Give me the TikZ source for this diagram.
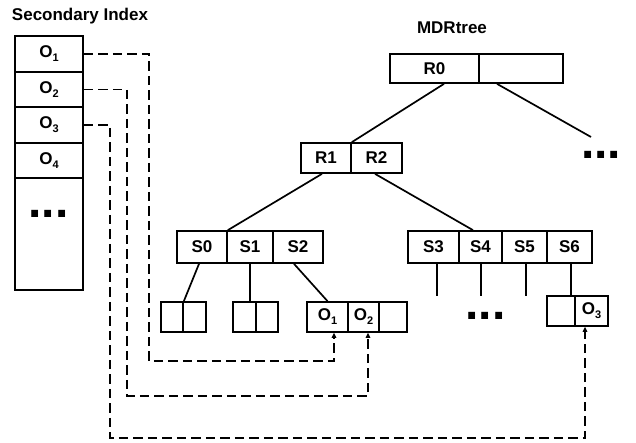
\documentclass[tikz,border=0pt]{standalone}
\usepackage{fontspec}
\setmainfont{Liberation Sans}
\usetikzlibrary{arrows.meta}
\tikzset{
  cell/.style={draw, line width=1.7pt, inner sep=0pt, font=\fontsize{17}{19}\selectfont\bfseries, minimum height=#1},
  cell/.default=30,
  edge/.style={line width=1.7pt},
  link/.style={line width=1.7pt, dash pattern=on 9.5pt off 5pt, -{Triangle[width=4.5pt,length=5pt]}},
  ttl/.style={font=\fontsize{17}{19}\selectfont\bfseries, inner sep=0pt},
  dots/.style={font=\fontsize{48}{48}\selectfont\bfseries, inner sep=0pt, anchor=base}
}
\newcommand{\Osub}[1]{O\raisebox{-4pt}{\fontsize{11}{11}\selectfont #1}}
\begin{document}
\begin{tikzpicture}[x=1pt,y=-1pt]
\useasboundingbox (0,0) rectangle (636,443);
% titles
\node[ttl] (t1) at (80,16) {Secondary Index};
\node[ttl] (t2) at (452,28) {MDRtree};
% secondary index
\node[cell=36, minimum width=68] (I1) at (49,54) {\Osub{1}};
\node[cell=35, minimum width=68] (I2) at (49,89.5) {\Osub{2}};
\node[cell=36, minimum width=68] (I3) at (49,125) {\Osub{3}};
\node[cell=35, minimum width=68] (I4) at (49,160.5) {\Osub{4}};
\node[cell=112, minimum width=68] (I5) at (49,234) {};
\node[dots] (d1) at (48.5,218) {...};
% root
\node[cell=29, minimum width=89] (R0) at (434.5,68.5) {R0};
\node[cell=29, minimum width=84] (R0b) at (521,68.5) {};
\node[dots] (d2) at (601,159) {...};
% level 1
\node[cell=30, minimum width=50] (R1) at (326,158) {R1};
\node[cell=30, minimum width=51] (R2) at (376.5,158) {R2};
% level 2
\node[cell=32, minimum width=50] (S0) at (202,247) {S0};
\node[cell=32, minimum width=46] (S1) at (250,247) {S1};
\node[cell=32, minimum width=50] (S2) at (298,247) {S2};
\node[cell=32, minimum width=51] (S3) at (433.5,247) {S3};
\node[cell=32, minimum width=43] (S4) at (480.5,247) {S4};
\node[cell=32, minimum width=45] (S5) at (524.5,247) {S5};
\node[cell=32, minimum width=45] (S6) at (569.5,247) {S6};
% leaves
\node[cell=30, minimum width=22] (L1a) at (172,317) {};
\node[cell=30, minimum width=23] (L1b) at (194.5,317) {};
\node[cell=30, minimum width=23] (L2a) at (244.5,317) {};
\node[cell=30, minimum width=22] (L2b) at (267,317) {};
\node[cell=30, minimum width=41] (L3a) at (327.5,317) {\Osub{1}};
\node[cell=30, minimum width=31] (L3b) at (363.5,317) {\Osub{2}};
\node[cell=30, minimum width=28] (L3c) at (393,317) {};
\node[cell=30, minimum width=28] (L4a) at (561,311) {};
\node[cell=30, minimum width=33] (L4b) at (591.5,311) {\Osub{3}};
\node[dots] (d3) at (485.5,319) {...};
% free ends
\coordinate (e0) at (591,137);
\coordinate (e3) at (437,296);
\coordinate (e4) at (481,296);
\coordinate (e5) at (526,296);
\coordinate (k1) at (149,361);
\coordinate (k2) at (127,396);
\coordinate (k3) at (110,438);
% tree edges
\draw[edge] ([xshift=9.5pt]R0.south) -- (R1.north east);
\draw[edge] ([xshift=-24pt]R0b.south) -- (e0);
\draw[edge] ([xshift=-4pt]R1.south) -- (S0.north east);
\draw[edge] ([xshift=-1.5pt]R2.south) -- ([xshift=-7.5pt]S4.north);
\draw[edge] ([xshift=-3pt]S0.south) -- (L1a.north east);
\draw[edge] (S1.south) -- ++(0,39);
\draw[edge] ([xshift=-4pt]S2.south) -- (L3a.north);
\draw[edge] ([xshift=3.5pt]S3.south) -- (e3);
\draw[edge] ([xshift=0.5pt]S4.south) -- (e4);
\draw[edge] ([xshift=1.5pt]S5.south) -- (e5);
\draw[edge] ([xshift=1.5pt]S6.south) -- ([xshift=1.5pt]S6.south |- L4a.north);
% secondary index links
\draw[link] (I1.east) -| (k1) -| ([xshift=6.5pt]L3a.south);
\draw[link] (I2.east) -| (k2) -| ([xshift=4.5pt]L3b.south);
\draw[link] (I3.east) -| (k3) -| ([xshift=-6.5pt]L4b.south);
\end{tikzpicture}
\end{document}
